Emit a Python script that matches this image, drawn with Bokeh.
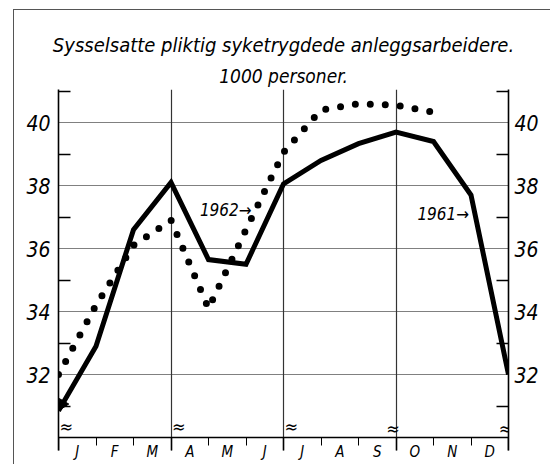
from bokeh.plotting import figure
from bokeh.models import (Range1d, LinearAxis, FixedTicker, Grid, Title, Label,
                          Arrow, NormalHead, InlineStyleSheet)
from bokeh.core.properties import value
from bokeh.embed import file_html
from bokeh.resources import INLINE

# ---- data ----
months_1961 = [0, 1, 2, 3, 4, 5, 6, 7, 8, 9, 10, 11, 12]
v1961 = [30.85, 32.9, 36.6, 38.1, 35.65, 35.5, 38.05, 38.8, 39.33, 39.7, 39.4, 37.7, 32.0]
months_1962 = [0, 1, 2, 3, 4, 5, 6, 7, 8, 9, 10]
v1962 = [32.0, 34.2, 36.1, 36.9, 34.1, 36.6, 39.05, 40.4, 40.6, 40.55, 40.33]
month_labels = ["J", "F", "M", "A", "M", "J", "J", "A", "S", "O", "N", "D"]
month_centers = [0.5, 1.5, 2.5, 3.5, 4.5, 5.5, 6.5, 7.5, 8.5, 9.5, 10.5, 11.5]
quarter_ticks = [0, 3, 6, 9, 12]
month_ticks = [1, 2, 4, 5, 7, 8, 10, 11]
y_major = [32, 34, 36, 38, 40]
y_minor = [31, 33, 35, 37, 39, 41]
break_left = [0, 3, 6]
break_cross = [9, 12]
title_text = "Sysselsatte pliktig syketrygdede anleggsarbeidere."
subtitle_text = "1000 personer."

FNAME = "DejaVu Sans Condensed"
FONT = value(FNAME)

p = figure(width=550, height=464, x_range=Range1d(0, 12), y_range=Range1d(29.59, 41.05),
           output_backend="svg", toolbar_location=None, title=None,
           x_axis_location=None, y_axis_location=None,
           min_border_left=58, min_border_right=42, min_border_bottom=14, min_border_top=89)
p.center = []          # drop the automatic grids
p.outline_line_color = None
p.background_fill_color = "white"
p.border_fill_color = "white"

# outer frame of the original figure (top and left edges)
p.stylesheets = [InlineStyleSheet(css=(
    ":host::before { content: ''; position: absolute; left: 13px; top: 9px; "
    "width: calc(100% - 13px); height: calc(100% - 9px); "
    "border-top: 1px solid #555; border-left: 1px solid #555; "
    "pointer-events: none; z-index: 5; }"))]

# titles
sub = Title(text=subtitle_text, align="center", text_font_size="19px",
            text_font_style="italic", text_font=FNAME, text_color="black", standoff=6)
ttl = Title(text=title_text, align="center", text_font_size="20px",
            text_font_style="italic", text_font=FNAME, text_color="black", standoff=6)
p.add_layout(sub, "above")
p.add_layout(ttl, "above")

# grids
ygrid = Grid(dimension=1, ticker=FixedTicker(ticks=y_major),
             grid_line_color="#808080", grid_line_width=1)
xgrid = Grid(dimension=0, ticker=FixedTicker(ticks=[3, 6, 9]),
             grid_line_color="#333333", grid_line_width=1.2)
p.add_layout(ygrid)
p.add_layout(xgrid)

# y axes
def make_yaxis(standoff):
    ax = LinearAxis(ticker=FixedTicker(ticks=y_major, minor_ticks=y_minor))
    ax.major_tick_in = 0
    ax.major_tick_out = 0
    ax.minor_tick_in = 12
    ax.minor_tick_out = 0
    ax.minor_tick_line_width = 1.5
    ax.minor_tick_line_color = "black"
    ax.axis_line_width = 1.6
    ax.axis_line_color = "black"
    ax.major_label_standoff = standoff
    ax.major_label_text_font = FNAME
    ax.major_label_text_font_style = "italic"
    ax.major_label_text_font_size = "21px"
    ax.major_label_text_color = "black"
    return ax

p.add_layout(make_yaxis(8), "left")
p.add_layout(make_yaxis(6), "right")

# x axis line at 30 with ticks at month boundaries
xt = LinearAxis(ticker=FixedTicker(ticks=quarter_ticks, minor_ticks=month_ticks),
                fixed_location=30)
xt.major_tick_in = 0
xt.major_tick_out = 14
xt.minor_tick_in = 0
xt.minor_tick_out = 8
xt.major_tick_line_width = 1.5
xt.major_tick_line_color = "black"
xt.minor_tick_line_width = 1
xt.minor_tick_line_color = "black"
xt.axis_line_width = 1.3
xt.axis_line_color = "black"
xt.major_label_text_alpha = 0
p.add_layout(xt, "below")

# month labels
xl = LinearAxis(ticker=FixedTicker(ticks=month_centers))
xl.major_label_overrides = {c: l for c, l in zip(month_centers, month_labels)}
xl.axis_line_color = None
xl.major_tick_line_color = None
xl.minor_tick_line_color = None
xl.major_tick_in = 0
xl.major_tick_out = 0
xl.minor_tick_in = 0
xl.minor_tick_out = 0
xl.major_label_standoff = -8
xl.major_label_text_font = FNAME
xl.major_label_text_font_style = "italic"
xl.major_label_text_font_size = "15px"
xl.major_label_text_color = "black"
p.add_layout(xl, "below")

# series
p.line(months_1962, v1962, line_width=7, line_color="black",
       line_dash="0 15", line_cap="round")
p.line(months_1961, v1961, line_width=5, line_color="black", line_join="miter")
p.add_layout(Arrow(end=NormalHead(size=11, fill_color="black", line_color="black"),
                   x_start=months_1961[1], y_start=v1961[1],
                   x_end=months_1961[0], y_end=v1961[0],
                   line_color="black", line_width=1))

# series labels
p.add_layout(Label(x=5.15, y=37.24, text="1962\u2192", text_align="right",
                   text_baseline="middle", text_font=FNAME, text_color="black",
                   text_font_style="italic", text_font_size="17px"))
p.add_layout(Label(x=10.95, y=37.1, text="1961\u2192", text_align="right",
                   text_baseline="middle", text_font=FNAME, text_color="black",
                   text_font_style="italic", text_font_size="17px"))

# axis break marks
p.text(x=break_left, y=[30.35] * len(break_left), text=["\u2248"] * len(break_left),
       text_align="left", text_baseline="middle", x_offset=1,
       text_font=FONT, text_font_size="18px", text_color="black")
p.text(x=break_cross, y=[30.3] * len(break_cross), text=["\u2248"] * len(break_cross),
       text_align="center", text_baseline="middle", x_offset=-3,
       text_font=FONT, text_font_size="18px", text_color="black")

open("out.html", "w").write(file_html(p, INLINE))
